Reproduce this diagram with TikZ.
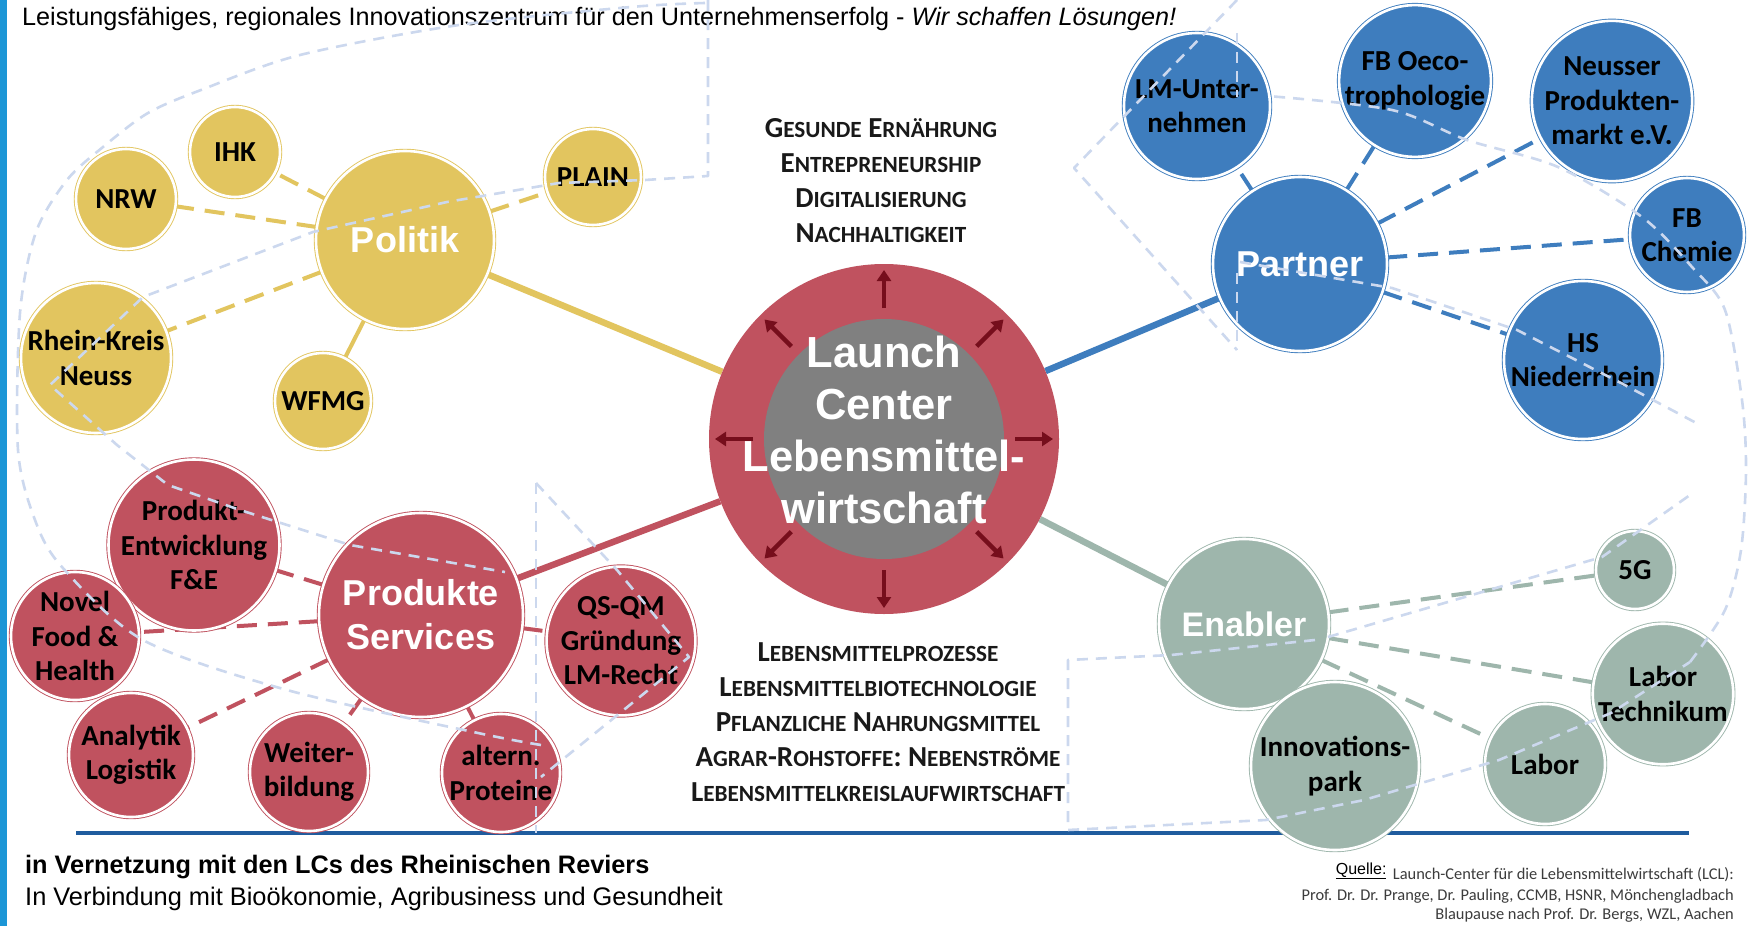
\documentclass[tikz,border=0pt]{standalone}
\usepackage{fontspec}
\setmainfont{Liberation Sans}
\newfontfamily\calib{Carlito}
\usetikzlibrary{arrows.meta,backgrounds,calc}
\definecolor{yel}{RGB}{226,197,95}
\definecolor{blu}{RGB}{62,125,190}
\definecolor{lcred}{RGB}{192,82,95}
\definecolor{sage}{RGB}{158,182,172}
\definecolor{cgrey}{RGB}{128,128,128}
\definecolor{arrc}{RGB}{118,14,28}
\definecolor{ldash}{RGB}{204,216,238}
\definecolor{rulec}{RGB}{31,92,158}
\definecolor{barc}{RGB}{28,150,214}
\definecolor{qtext}{RGB}{60,60,60}
\newcommand\leaf{\calib\bfseries\fontsize{29}{34.5}\selectfont}
\newcommand\bigf{\bfseries\fontsize{36}{44}\selectfont}
\newcommand\scw[2]{{\fontsize{29}{35}\selectfont #1}{\fontsize{23.2}{35}\selectfont #2}}
\tikzset{
  circ/.style={circle, fill=#1, draw=#1, double=white, double distance=2.6pt, line width=0.9pt, inner sep=0pt, align=center, font=\leaf, text=black},
  rad/.style={minimum size=#1*2pt},
  bigl/.style={font=\bigf, text=white},
  dcon/.style={draw=#1, line width=4pt, dash pattern=on 20pt off 11pt},
  scon/.style={draw=#1, line width=6.5pt},
  lcon/.style={draw=#1, line width=4pt},
  bgd/.style={draw=ldash, line width=2.6pt, dash pattern=on 11pt off 8pt, line join=round},
  lcarrow/.style={draw=arrc, line width=4.5pt, -{Triangle[length=11pt,width=14pt]}},
  sctext/.style={font=\calib\bfseries\fontsize{29}{35}\selectfont, align=center, text=black!90},
  qsrc/.style={anchor=base east, inner sep=0pt, text=qtext, font=\calib\fontsize{16.4}{19}\selectfont},
}
\begin{document}
\begin{tikzpicture}[x=1pt,y=-1pt]
\useasboundingbox (0,0) rectangle (1754,926);

% title
\node[anchor=base west, inner sep=0pt, font=\fontsize{25.2}{29}\selectfont] (title) at (22,25)
  {Leistungsfähiges, regionales Innovationszentrum für den Unternehmenserfolg - \textit{Wir schaffen Lösungen!}};

% centre
\node[circle, fill=lcred, minimum size=350pt, inner sep=0pt] (lc) at (884,439) {};
\fill[cgrey] (lc.center) circle (120pt);
\foreach \a in {0,45,...,315}
  \draw[lcarrow] ([shift={(\a:131pt)}]lc.center) -- ([shift={(\a:169pt)}]lc.center);
\node[text=white, font=\bfseries\fontsize{43.5}{52}\selectfont, align=center] (lct) at (884,430)
  {Launch\\Center\\Lebensmittel-\\wirtschaft};

% Politik
\node[circ=yel, rad=89, bigl] (pol) at (405,240) {Politik};
\node[circ=yel, rad=45] (ihk) at (235,152) {IHK};
\node[circ=yel, rad=50] (nrw) at (126,199) {NRW};
\node[circ=yel, rad=48] (plain) at (593,177) {PLAIN};
\node[circ=yel, rad=75] (rkn) at (96,358) {Rhein-Kreis\\Neuss};
\node[circ=yel, rad=48] (wfmg) at (323,401) {WFMG};

% Partner
\node[circ=blu, rad=87, bigl] (par) at (1300,264) {Partner};
\node[circ=blu, rad=73] (lmu) at (1197,106) {LM-Unter-\\nehmen};
\node[circ=blu, rad=75] (oeco) at (1415,81) {FB Oeco-\\trophologie};
\node[circ=blu, rad=78] (nps) at (1612,101) {Neusser\\Produkten-\\markt e.V.};
\node[circ=blu, rad=57] (chem) at (1687,235) {FB\\Chemie};
\node[circ=blu, rad=79] (hsn) at (1583,360) {HS\\Niederrhein};

% Produkte Services
\node[circ=lcred, rad=102, bigl] (prs) at (421,615) {Produkte\\Services};
\node[circ=lcred, rad=85] (pe) at (194,545) {Produkt-\\Entwicklung\\F\&E};
\node[circ=lcred, rad=64] (nfh) at (75,636) {Novel\\Food \&\\Health};
\node[circ=lcred, rad=70] (qs) at (621,641) {QS-QM\\Gründung\\LM-Recht};
\node[circ=lcred, rad=62] (ana) at (131,755) {Analytik\\Logistik};
\node[circ=lcred, rad=59] (wb) at (309,772) {Weiter-\\bildung};
\node[circ=lcred, rad=59] (ap) at (501,773) {altern.\\Proteine};

% Enabler
\node[circ=sage, rad=85, font=\bfseries\fontsize{34}{40}\selectfont, text=white] (ena) at (1244,624) {Enabler};
\node[circ=sage, rad=39] (g5) at (1635,570) {5G};
\node[circ=sage, rad=70] (lt) at (1663,694) {Labor\\Technikum};
\node[circ=sage, rad=60] (lab) at (1545,764) {Labor};
\node[circ=sage, rad=84] (inp) at (1335,766) {Innovations-\\park};

\begin{pgfonlayer}{background}
\fill[white] (0,0) rectangle (1754,926);
\fill[barc] (0,0) rectangle (7,926);
\draw[rulec, line width=4pt] (76,833) -- (1689,833);
\draw[scon=yel] (pol) -- (lc);
\draw[scon=blu] (par) -- (lc);
\draw[scon=lcred] (prs) -- (lc);
\draw[scon=sage] (ena) -- (lc);
\foreach \n in {ihk,nrw,plain,rkn} \draw[dcon=yel] (pol) -- (\n);
\draw[lcon=yel] (pol) -- (wfmg);
\foreach \n in {lmu,oeco,nps,chem,hsn} \draw[dcon=blu] (par) -- (\n);
\foreach \n in {pe,nfh,qs,ana,wb,ap} \draw[dcon=lcred] (prs) -- (\n);
\foreach \n in {g5,lt,lab} \draw[dcon=sage] (ena) -- (\n);
\draw[lcon=sage] (ena) -- (inp);
\end{pgfonlayer}

% topic texts
\node[sctext] (top) at (881,181) {\scw{G}{ESUNDE} \scw{E}{RNÄHRUNG}\\\scw{E}{NTREPRENEURSHIP}\\\scw{D}{IGITALISIERUNG}\\\scw{N}{ACHHALTIGKEIT}};
\node[sctext] (bot) at (878,722) {\scw{L}{EBENSMITTELPROZESSE}\\\scw{L}{EBENSMITTELBIOTECHNOLOGIE}\\\scw{P}{FLANZLICHE} \scw{N}{AHRUNGSMITTEL}\\\scw{A}{GRAR}-\scw{R}{OHSTOFFE}: \scw{N}{EBENSTRÖME}\\\scw{L}{EBENSMITTELKREISLAUFWIRTSCHAFT}};

% bottom texts
\node[anchor=base west, inner sep=0pt, font=\bfseries\fontsize{25.3}{30}\selectfont] (net) at (25,873) {in Vernetzung mit den LCs des Rheinischen Reviers};
\node[anchor=base west, inner sep=0pt, font=\fontsize{25.4}{30}\selectfont] (verb) at (25,905) {In Verbindung mit Bioökonomie, Agribusiness und Gesundheit};
\node[qsrc] (q1) at (1734,879) {Launch-Center für die Lebensmittelwirtschaft (LCL):};
\node[qsrc] (q2) at (1734,900) {Prof. Dr. Dr. Prange, Dr. Pauling, CCMB, HSNR, Mönchengladbach};
\node[qsrc] (q3) at (1734,919) {Blaupause nach Prof. Dr. Bergs, WZL, Aachen};
\node[anchor=base east, inner sep=0pt, font=\fontsize{16}{19}\selectfont] (ql) at ($(q1.base west)+(-6,-5)$) {\underline{Quelle:}};

% faint dashed background outline
\draw[bgd] plot[smooth] coordinates {(705,3) (631,7) (459,25) (300,55) (201,90) (148,113) (103,147) (67,180) (36,232) (20,313) (18,450) (35,520) (62,567) (143,640) (287,690) (478,733) (541,745)};
\draw[bgd] (708,0) -- (708,176) -- (645,180) -- (559,183) -- (447,202) -- (313,232) -- (143,297) -- (50,385) -- (117,445) -- (168,485) -- (240,510) -- (350,545) -- (505,572);
\draw[bgd] (536,483) -- (536,833);
\draw[bgd] (536,483) -- (617,570) -- (689,657) -- (541,777);
\draw[bgd] (1315,640) -- (1171,655) -- (1068,660) -- (1068,830) -- (1266,820) -- (1364,800) -- (1499,760) -- (1611,713) -- (1690,662);
\draw[bgd] plot[smooth] coordinates {(1690,662) (1725,610) (1741,550) (1746,470) (1742,400) (1725,310) (1692,267) (1642,217) (1558,167) (1467,140) (1392,110) (1268,96)};
\draw[bgd] (1328,637) -- (1602,557) -- (1690,495);
\draw[bgd] (1237,0) -- (1074,168) -- (1237,350);
\draw[bgd] (1237,33) -- (1237,97);
\draw[bgd] (1237,273) -- (1237,350);
\draw[bgd] (1240,262) -- (1392,288) -- (1517,330) -- (1621,383) -- (1700,425);
\end{tikzpicture}
\end{document}
